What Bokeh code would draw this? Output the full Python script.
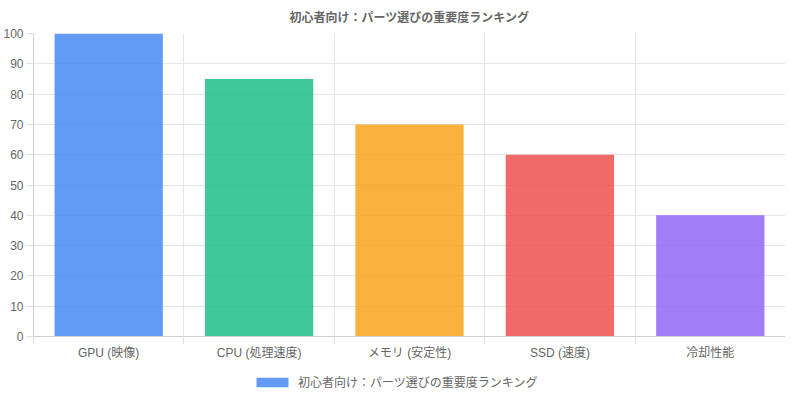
from bokeh.plotting import figure
from bokeh.layouts import column
from bokeh.models import (ColumnDataSource, Range1d, FixedTicker, Legend, LegendItem)
from bokeh.embed import file_html
from bokeh.resources import INLINE

title_text = "初心者向け：パーツ選びの重要度ランキング"
categories = ["GPU (映像)", "CPU (処理速度)", "メモリ (安定性)", "SSD (速度)", "冷却性能"]
values = [100, 85, 70, 60, 40]
colors = ["#3b82f6", "#10b981", "#f59e0b", "#ef4444", "#8b5cf6"]
y_ticks = [0, 10, 20, 30, 40, 50, 60, 70, 80, 90, 100]

FONT = "Liberation Sans, Arial, Noto Sans CJK JP, sans-serif"
n = len(categories)
centers = [i + 0.5 for i in range(n)]
bounds = [float(i) for i in range(n + 1)]

src = ColumnDataSource(dict(x=centers, top=values, color=colors, cat=categories))

p = figure(frame_width=752, frame_height=303, output_backend="svg", toolbar_location=None,
           x_range=Range1d(0, n), y_range=Range1d(0, 100),
           min_border_left=0, min_border_right=0, min_border_top=26, min_border_bottom=32)
p.outline_line_color = None
p.background_fill_color = "white"
p.border_fill_color = "white"

p.title.text = title_text
p.title.align = "center"
p.title.text_font = FONT
p.title.text_font_size = "12px"
p.title.text_font_style = "bold"
p.title.text_color = "#666666"
p.title.standoff = 17
p.title.offset = 0

r = p.vbar(x="x", top="top", width=0.72, bottom=0, source=src,
           fill_color="color", fill_alpha=0.8, line_color=None)

# axes
xa = p.xaxis[0]
xa.ticker = FixedTicker(ticks=centers, minor_ticks=bounds)
xa.major_label_overrides = {c: lab for c, lab in zip(centers, categories)}
xa.major_tick_out = 0
xa.major_tick_in = 0
xa.minor_tick_out = 8
xa.minor_tick_in = 0
xa.minor_tick_line_color = "#e0e0e0"
xa.axis_line_color = "#d0d0d0"
xa.major_label_standoff = 1
xa.major_label_text_font = FONT
xa.major_label_text_font_size = "12px"
xa.major_label_text_color = "#666666"

ya = p.yaxis[0]
ya.ticker = FixedTicker(ticks=y_ticks)
ya.major_tick_out = 7
ya.major_tick_in = 0
ya.minor_tick_line_color = None
ya.major_tick_line_color = "#e0e0e0"
ya.axis_line_color = "#d0d0d0"
ya.major_label_standoff = 3
ya.major_label_text_font = FONT
ya.major_label_text_font_size = "12px"
ya.major_label_text_color = "#666666"

p.xgrid.ticker = FixedTicker(ticks=bounds[1:])
p.xgrid.grid_line_color = "#e5e5e5"
p.ygrid.ticker = FixedTicker(ticks=y_ticks)
p.ygrid.grid_line_color = "#e5e5e5"

# legend strip (separate small figure; its swatch renderer is kept out of view)
pl = figure(width=780, height=22, output_backend="svg", toolbar_location=None,
            x_range=Range1d(0, n), y_range=Range1d(1000, 1001),
            x_axis_location=None, y_axis_location=None,
            min_border_left=0, min_border_right=0, min_border_top=0, min_border_bottom=0)
pl.outline_line_color = None
pl.grid.visible = False
rl = pl.vbar(x="x", top="top", width=0.72, bottom=0, source=src,
             fill_color="color", fill_alpha=0.8, line_color=None)
legend = Legend(items=[LegendItem(label=title_text, renderers=[rl], index=0)],
                orientation="horizontal", location=(219, 0),
                glyph_width=40, glyph_height=12, label_height=12,
                label_text_font=FONT,
                label_text_font_size="12px", label_text_color="#666666",
                border_line_color=None, background_fill_alpha=0,
                padding=4, margin=0, label_standoff=6, spacing=0)
pl.add_layout(legend)

layout = column(p, pl, spacing=0)
html = file_html(layout, INLINE)
open("out.html", "w").write(html)
